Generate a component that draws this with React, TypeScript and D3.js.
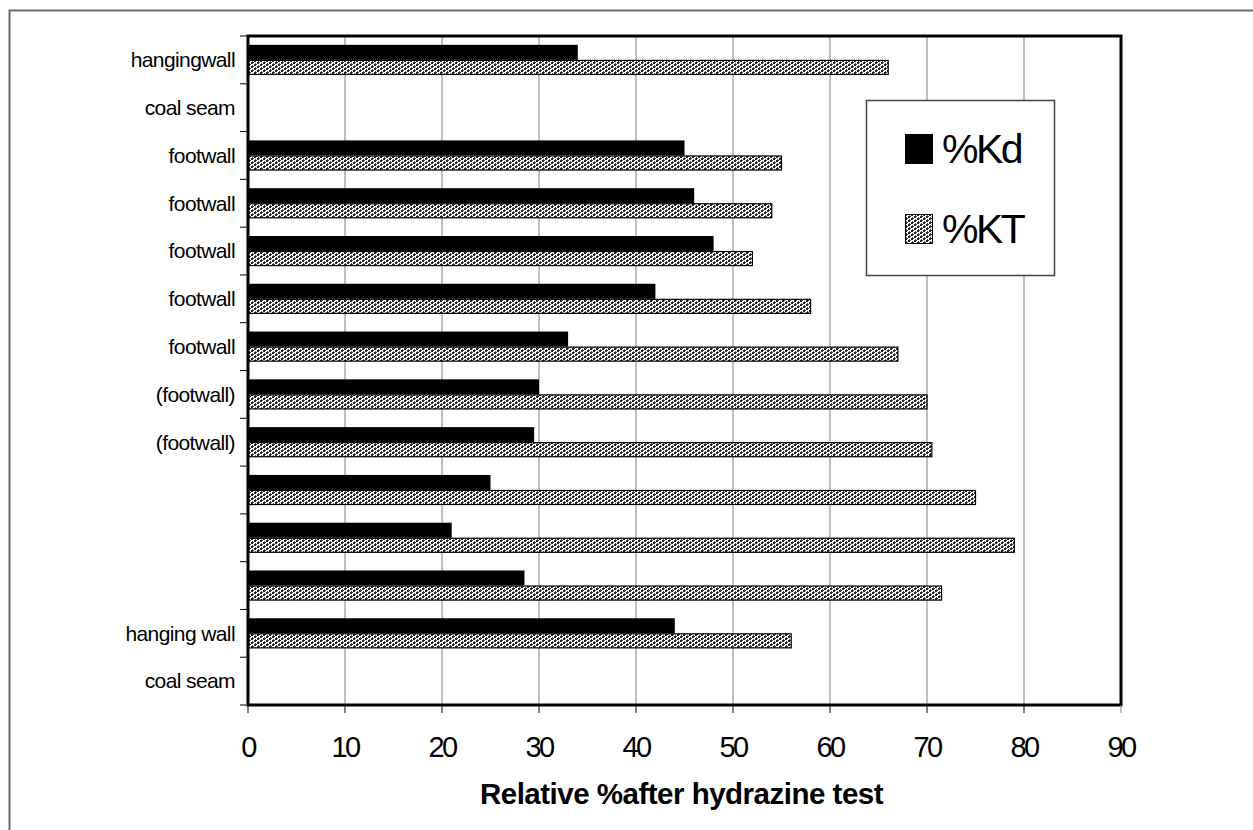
import * as d3 from "d3";

const categories = [
  "hangingwall",
  "coal seam",
  "footwall",
  "footwall",
  "footwall",
  "footwall",
  "footwall",
  "(footwall)",
  "(footwall)",
  "",
  "",
  "",
  "hanging wall",
  "coal seam",
];
const kd = [34, null, 45, 46, 48, 42, 33, 30, 29.5, 25, 21, 28.5, 44, null];
const kt = [66, null, 55, 54, 52, 58, 67, 70, 70.5, 75, 79, 71.5, 56, null];
const seriesNames = ["%Kd", "%KT"];
const xTicks = [0, 10, 20, 30, 40, 50, 60, 70, 80, 90];

const W = 1253;
const H = 830;
const margin = { left: 248, right: 132, top: 36, bottom: 125 };
const FONT = "'Liberation Sans', Arial, sans-serif";

export default function App() {
  const plotW = W - margin.left - margin.right;
  const plotH = H - margin.top - margin.bottom;

  const x = d3.scaleLinear().domain([0, 90]).range([0, plotW]);
  // one slot per category, used for ticks and labels
  const yCat = d3.scaleBand<number>().domain(d3.range(categories.length)).range([0, plotH]).padding(0);
  // bar group inside each slot
  const yGroup = d3
    .scaleBand<number>()
    .domain(d3.range(categories.length))
    .range([0, plotH])
    .paddingInner(0.37)
    .paddingOuter(0.185);
  const ySeries = d3.scaleBand<number>().domain([0, 1]).range([0, yGroup.bandwidth()]);

  const rows = categories.map((c, i) => ({ i, label: c, kd: kd[i], kt: kt[i] }));

  return (
    <div style={{ position: "absolute", left: 0, top: 0 }}>
      <svg width={W} height={H} style={{ display: "block", background: "#fff" }}>
        <defs>
          <pattern id="dots" width="6" height="4" patternUnits="userSpaceOnUse">
            <rect width="6" height="4" fill="#ffffff" />
            <rect x="0" y="0" width="2" height="2" fill="#262626" />
            <rect x="3" y="2" width="2" height="2" fill="#262626" />
            <rect x="2" y="0" width="1" height="1" fill="#444" />
            <rect x="5" y="2" width="1" height="1" fill="#444" />
            <rect x="1" y="3" width="1" height="1" fill="#555" />
            <rect x="4" y="1" width="1" height="1" fill="#555" />
          </pattern>
        </defs>

        {/* outer chart frame */}
        <rect x={9.5} y={10.5} width={W + 10} height={H + 10} fill="none" stroke="#6a6a6a" strokeWidth={2} />

        <g transform={`translate(${margin.left},${margin.top})`}>
          {/* vertical gridlines */}
          {xTicks.slice(1, -1).map((t) => (
            <line key={t} x1={x(t)} x2={x(t)} y1={0} y2={plotH} stroke="#808080" strokeWidth={1} />
          ))}

          {/* bars */}
          {rows.map((r) => {
            const y0 = yGroup(r.i)!;
            return (
              <g key={r.i}>
                {r.kd != null && (
                  <rect
                    x={x(0)}
                    y={y0 + ySeries(0)!}
                    width={x(r.kd)}
                    height={ySeries.bandwidth()}
                    fill="#000"
                  />
                )}
                {r.kt != null && (
                  <rect
                    x={x(0)}
                    y={y0 + ySeries(1)! + 0.5}
                    width={x(r.kt)}
                    height={ySeries.bandwidth() - 1}
                    fill="url(#dots)"
                    stroke="#000"
                    strokeWidth={1.2}
                  />
                )}
              </g>
            );
          })}

          {/* plot border */}
          <rect x={0} y={0} width={plotW} height={plotH} fill="none" stroke="#000" strokeWidth={3} />

          {/* y ticks and labels */}
          {d3.range(categories.length + 1).map((i) => (
            <line
              key={"yt" + i}
              x1={-8}
              x2={0}
              y1={i * yCat.step()}
              y2={i * yCat.step()}
              stroke="#000"
              strokeWidth={1}
            />
          ))}
          {rows.map((r) => (
            <text
              key={"yl" + r.i}
              x={-13}
              y={yCat(r.i)! + yCat.bandwidth() / 2}
              dy="0.35em"
              textAnchor="end"
              fontFamily={FONT}
              fontSize={21}
              letterSpacing={-0.6}
              fill="#000"
            >
              {r.label}
            </text>
          ))}

          {/* x ticks and labels */}
          {xTicks.map((t) => (
            <g key={"xt" + t} transform={`translate(${x(t)},${plotH})`}>
              <line y1={0} y2={8} stroke={t === 90 ? "#808080" : "#000"} strokeWidth={1} />
              <text
                y={52}
                textAnchor="middle"
                fontFamily={FONT}
                fontSize={29}
                letterSpacing={-2.5}
                fill="#000"
              >
                {t}
              </text>
            </g>
          ))}

          <text
            x={plotW / 2 - 3}
            y={plotH + 99}
            textAnchor="middle"
            fontFamily={FONT}
            fontSize={29.5}
            fontWeight="bold"
            letterSpacing={-0.5}
            fill="#000"
          >
            Relative %after hydrazine test
          </text>
        </g>

        {/* legend */}
        <g transform="translate(866,100)">
          <rect x={0.5} y={0.5} width={188} height={175} fill="#fff" stroke="#444" strokeWidth={1.5} />
          {seriesNames.map((s, i) => (
            <g key={s} transform={`translate(0,${i * 80})`}>
              <rect
                x={39.5}
                y={34.5}
                width={27}
                height={29}
                fill={i === 0 ? "#000" : "url(#dots)"}
                stroke="#000"
                strokeWidth={1}
              />
              <text x={76} y={63} fontFamily={FONT} fontSize={41} letterSpacing={-2.5} fill="#000">
                {s}
              </text>
            </g>
          ))}
        </g>
      </svg>
    </div>
  );
}
